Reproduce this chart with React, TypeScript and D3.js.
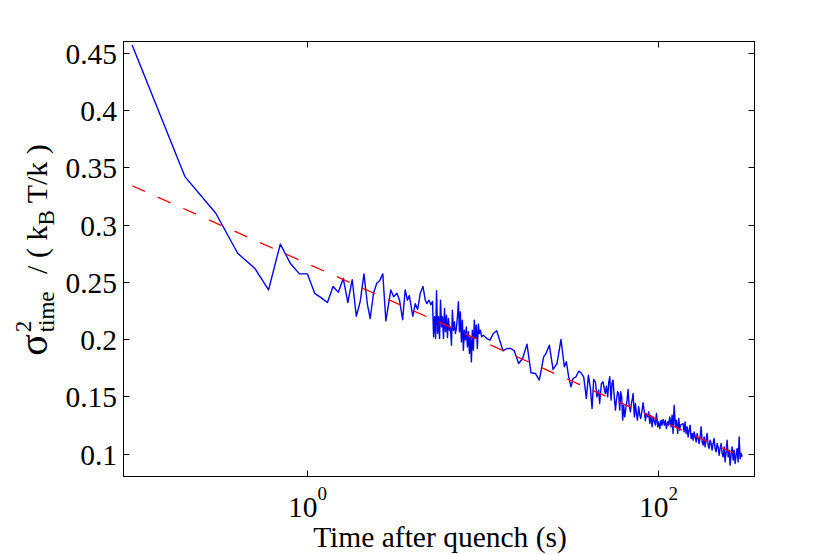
import React from 'react';
import * as d3 from 'd3';

const times = [
  0.1, 0.2, 0.3, 0.4, 0.5, 0.6, 0.7, 0.8, 0.9, 1.0, 1.1, 1.2, 1.3, 1.4, 1.5, 1.6, 1.7, 1.8, 1.9, 2.0, 2.1, 2.2,
  2.28, 2.38, 2.49, 2.58, 2.69, 2.80, 2.99, 3.10, 3.24, 3.35, 3.49, 3.61, 3.72, 3.81, 3.89, 3.99, 4.12, 4.25, 4.40,
  4.56, 4.70, 4.80, 4.93, 5.06, 5.17, 5.24, 5.31, 5.38, 5.45, 5.52, 5.59, 5.67, 5.74, 5.82, 5.89, 5.97, 6.05, 6.13,
  6.21, 6.29, 6.37, 6.46, 6.54, 6.63, 6.71, 6.80, 6.89, 6.98, 7.07, 7.17, 7.26, 7.36, 7.45, 7.55, 7.65, 7.75, 7.85,
  7.96, 8.06, 8.17, 8.28, 8.39, 8.50, 8.61, 8.72, 8.84, 8.95, 9.07, 9.19, 9.31, 9.44, 9.56, 9.69, 9.86, 10.08, 10.53,
  11.0, 11.49, 12.0,
  13.04, 13.74, 14.48, 15.13, 16.01, 16.88, 17.87, 18.84, 19.94, 21.01, 22.24, 22.94, 23.97, 25.15, 26.5, 27.93,
  29.19, 29.97, 30.9, 31.86, 32.69, 34.01, 35.24, 36.34, 37.63, 38.97, 40.02,
  41.1, 42.0, 42.9, 43.9, 44.8, 45.8, 46.4, 47.5, 48.5, 49.4, 50.0, 50.7, 51.6, 52.3, 53.0, 53.9, 54.6, 55.3, 56.3,
  57.1, 57.8, 58.8, 59.6, 60.4, 61.2, 62.0, 62.8, 63.6, 64.5, 65.4, 66.5, 67.4, 68.3, 69.5, 70.4, 71.3, 72.0, 73.2,
  74.2, 75.2, 76.2, 77.5, 78.6, 79.6, 81.0, 82.1, 83.5, 84.6, 85.7, 87.3, 88.4, 89.6, 90.8, 92.4, 93.6, 95.3, 96.5,
  97.8, 99.5, 100.8, 102.2, 104.0, 105.3, 106.7, 108.6, 110.0, 111.5, 113.5, 115.0, 116.5, 118.6, 120.2, 121.7,
  123.4, 125.5, 127.2, 129.4, 131.2, 132.9, 134.1,
  138.8, 140.7, 142.5, 144.4, 146.3, 148.3, 150.3, 152.2, 154.3, 156.3, 158.4, 160.5, 162.6, 164.8, 166.9, 169.1,
  171.4, 173.6, 176.0, 178.2, 180.6, 183.0, 185.4, 187.8, 190.3, 192.8, 195.4, 198.0, 200.6, 203.2, 205.9, 208.6,
  211.4, 214.2, 217.0, 219.9, 222.8, 225.7, 228.7, 231.7, 234.8, 237.9, 241.1, 244.3, 247.5, 250.8, 254.1, 257.5,
  260.9, 264.3, 267.9, 271.4, 275.0, 278.6, 282.3, 286.1, 289.9, 293.7, 297.6, 301.5,
];

const sigmaVals = [
  0.457, 0.342, 0.310, 0.275, 0.262, 0.243, 0.283, 0.266, 0.257, 0.257, 0.240, 0.236, 0.232, 0.246, 0.241, 0.253,
  0.232, 0.252, 0.220, 0.233, 0.257, 0.230,
  0.218, 0.240, 0.249, 0.251, 0.257, 0.216, 0.243, 0.237, 0.240, 0.234, 0.217, 0.243, 0.234, 0.238, 0.230, 0.220,
  0.231, 0.226, 0.240, 0.246, 0.234, 0.231, 0.234, 0.230, 0.233, 0.202, 0.2195, 0.2005, 0.2422, 0.2049, 0.2195,
  0.2005, 0.2340, 0.2107, 0.2195, 0.2005, 0.2267, 0.2064, 0.2209, 0.2014, 0.2180, 0.2078, 0.2107, 0.1947, 0.2253,
  0.2078, 0.2151, 0.2049, 0.2093, 0.2195, 0.2326, 0.2064, 0.2238, 0.1976, 0.2165, 0.1903, 0.2078, 0.1991, 0.2107,
  0.1932, 0.2064, 0.1874, 0.2020, 0.1801, 0.2078, 0.1903, 0.2165, 0.2005, 0.2122, 0.1918, 0.2130, 0.2049, 0.2078,
  0.2020, 0.2035, 0.2005, 0.1991, 0.2049, 0.2073,
  0.1898, 0.1918, 0.1918, 0.1898, 0.1787, 0.1831, 0.1956, 0.1706, 0.1700, 0.1642, 0.1845, 0.1875, 0.1947, 0.1735,
  0.1787, 0.1997, 0.1758, 0.1802, 0.1671, 0.1583, 0.1656, 0.1671, 0.1720, 0.1706, 0.1671, 0.1482, 0.1685,
  0.1569, 0.1394, 0.1647, 0.1627, 0.1496, 0.1554, 0.1438, 0.1613, 0.1627, 0.1560, 0.1525, 0.1589, 0.1496, 0.1627,
  0.1671, 0.1467, 0.1613, 0.1642, 0.1481, 0.1380, 0.1467, 0.1540, 0.1525, 0.1380, 0.1540, 0.1496, 0.1292, 0.1423,
  0.1321, 0.1394, 0.1467, 0.1560, 0.1423, 0.1365, 0.1438, 0.1481, 0.1525, 0.1321, 0.1438, 0.1350, 0.1292, 0.1409,
  0.1336, 0.1307, 0.1380, 0.1444, 0.1365, 0.1287, 0.1350, 0.1321, 0.1365, 0.1263, 0.1336, 0.1234, 0.1321, 0.1278,
  0.1249, 0.1350, 0.1234, 0.1278, 0.1219, 0.1292, 0.1249, 0.1298, 0.1249, 0.1292, 0.1219, 0.1278, 0.1249, 0.1321,
  0.1234, 0.1336, 0.1176, 0.1423, 0.1234, 0.1292, 0.1176, 0.1307, 0.1205, 0.1249,
  0.1263, 0.1190, 0.1277, 0.1176, 0.1234, 0.1146, 0.1205, 0.1248, 0.1132, 0.1176, 0.1117, 0.1190, 0.1146, 0.1103,
  0.1176, 0.1132, 0.1088, 0.1146, 0.1234, 0.1103, 0.1074, 0.1146, 0.1059, 0.1117, 0.1176, 0.1074, 0.1045, 0.1117,
  0.1088, 0.1030, 0.1088, 0.1132, 0.1045, 0.1015, 0.1088, 0.1059, 0.0986, 0.1045, 0.1088, 0.1001, 0.0972, 0.1059,
  0.0928, 0.1015, 0.1117, 0.0972, 0.1030, 0.0899, 0.1001, 0.1059, 0.0943, 0.1030, 0.0914, 0.0986, 0.1045, 0.0928,
  0.1146, 0.0957, 0.1001, 0.0972,
];

const fitTimes = [0.1, 301.5];
const fitVals = [0.334, 0.0972];

const yTickVals = [0.1, 0.15, 0.2, 0.25, 0.3, 0.35, 0.4, 0.45];
const yTickLabels = ['0.1', '0.15', '0.2', '0.25', '0.3', '0.35', '0.4', '0.45'];
const xTickVals = [1, 100];
const xTickBase = ['10', '10'];
const xTickExps = ['0', '2'];

const xDomain = [0.0893, 354.6];
const yDomain = [0.08, 0.46];

const W = 830;
const H = 555;
const L = 123.5;
const R = 754.5;
const T = 41.5;
const B = 476.5;
const FONT = "'Liberation Serif', 'Times New Roman', Times, serif";
const FS = 29.5;

export default function App() {
  const x = d3.scaleLog().domain(xDomain).range([L, R]);
  const y = d3.scaleLinear().domain(yDomain).range([B, T]);

  const series = times.map((t, i) => ({ t, v: sigmaVals[i] }));
  const fit = fitTimes.map((t, i) => ({ t, v: fitVals[i] }));

  const line = d3
    .line<{ t: number; v: number }>()
    .x((d) => x(d.t))
    .y((d) => y(d.v));

  const tick = 6;

  return (
    <svg
      width={W}
      height={H}
      style={{ position: 'absolute', left: 0, top: 0, background: '#fff' }}
      fontFamily={FONT}
    >
      <rect x={0} y={0} width={W} height={H} fill="#fff" />
      <defs>
        <clipPath id="plotclip">
          <rect x={L} y={T} width={R - L} height={B - T} />
        </clipPath>
      </defs>
      <g clipPath="url(#plotclip)">
        <path d={line(series) || ''} fill="none" stroke="#0000ff" strokeWidth={1.4} strokeLinejoin="round" />
        <path
          d={line(fit) || ''}
          fill="none"
          stroke="#ff0000"
          strokeWidth={1.3}
          strokeDasharray="14,14"
        />
      </g>
      <rect x={L} y={T} width={R - L} height={B - T} fill="none" stroke="#000" strokeWidth={1} />
      {yTickVals.map((v, i) => {
        const yy = Math.round(y(v)) + 0.5;
        return (
          <g key={'y' + i}>
            <line x1={L} x2={L + tick} y1={yy} y2={yy} stroke="#000" strokeWidth={1} />
            <line x1={R} x2={R - tick} y1={yy} y2={yy} stroke="#000" strokeWidth={1} />
            <text x={117} y={yy} dy="0.35em" textAnchor="end" fontSize={FS} fill="#000">
              {yTickLabels[i]}
            </text>
          </g>
        );
      })}
      {xTickVals.map((v, i) => {
        const xx = Math.round(x(v)) + 0.5;
        return (
          <g key={'x' + i}>
            <line x1={xx} x2={xx} y1={B} y2={B - tick} stroke="#000" strokeWidth={1} />
            <line x1={xx} x2={xx} y1={T} y2={T + tick} stroke="#000" strokeWidth={1} />
            <text x={xx} y={517} textAnchor="middle" fontSize={FS} fill="#000">
              <tspan>{xTickBase[i]}</tspan>
              <tspan fontSize={19} dy={-17}>
                {xTickExps[i]}
              </tspan>
            </text>
          </g>
        );
      })}
      <text x={(L + R) / 2 + 1} y={547} textAnchor="middle" fontSize={FS} fill="#000">
        Time after quench (s)
      </text>
      <text transform="translate(47,250) rotate(-90)" textAnchor="middle" fontSize={30} fill="#000">
        <tspan fontSize={40}>σ</tspan>
        <tspan fontSize={23} dx={2} dy={-16}>2</tspan>
        <tspan fontSize={23} dx={-11.5} dy={23}>time</tspan>
        <tspan dx={10} dy={-7}> / ( k</tspan>
        <tspan fontSize={23} dy={7}>B</tspan>
        <tspan dy={-7}> T/k )</tspan>
      </text>
    </svg>
  );
}
